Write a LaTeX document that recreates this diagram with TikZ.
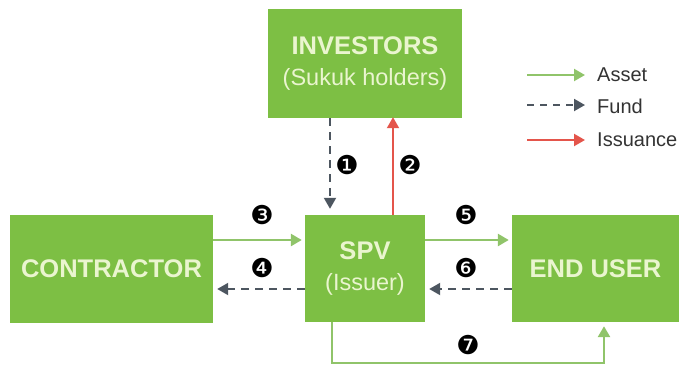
\documentclass[tikz,border=0pt]{standalone}
\usepackage{fontspec}
\setmainfont{Liberation Sans}
\newfontfamily\dingfont{DejaVu Sans}
\usetikzlibrary{arrows.meta}
\definecolor{boxgreen}{HTML}{7DBF44}
\definecolor{boxtext}{HTML}{EAF5CF}
\definecolor{assetgreen}{HTML}{90C46A}
\definecolor{fundgray}{HTML}{4D5660}
\definecolor{issuered}{HTML}{E4554B}
\begin{document}
\begin{tikzpicture}[x=1pt,y=-1pt,
  party/.style={fill=boxgreen,draw=none,text=boxtext,align=center,inner sep=0pt,
    font=\fontsize{25.5}{30}\selectfont},
  head/.style={-{Triangle[length=11pt,width=12pt]}},
  asset/.style={head,draw=assetgreen,line width=2.6pt},
  fund/.style={head,draw=fundgray,line width=2pt,dash pattern=on 8pt off 6pt},
  issue/.style={head,draw=issuered,line width=2pt},
  steplabel/.style={font=\dingfont\fontsize{26}{26}\selectfont,text=black,inner sep=0pt},
  key/.style={font=\fontsize{20}{20}\selectfont,text=black!80,anchor=west,inner sep=0pt}]
\useasboundingbox (0,0) rectangle (680,368);

% parties
\node[party,minimum width=194pt,minimum height=109pt] (inv) at (365,63.5)
  {\bfseries INVESTORS\\[1pt]\fontsize{23.5}{30}\selectfont (Sukuk holders)};
\node[party,minimum width=203pt,minimum height=108pt] (con) at (111.5,269)
  {\bfseries CONTRACTOR};
\node[party,minimum width=120pt,minimum height=107pt] (spv) at (365,268.5)
  {\bfseries SPV\\[1pt]\fontsize{23.5}{30}\selectfont (Issuer)};
\node[party,minimum width=167pt,minimum height=107pt] (end) at (595.5,268.5)
  {\bfseries END USER};

% flows between the parties (shifts are in page direction: + is up)
\draw[fund,shorten >=6pt] ([xshift=-35pt]inv.south) -- ([xshift=-35pt]spv.north);
\draw[issue,shorten >=-1pt] ([xshift=28pt]spv.north) -- ([xshift=28pt]inv.south);
\draw[asset,shorten >=3pt] ([yshift=28.5pt]spv.west -| con.east) -- ([yshift=28.5pt]spv.west);
\draw[fund,shorten >=4pt] ([yshift=-20.5pt]spv.west) -- ([yshift=-20.5pt]spv.west -| con.east);
\draw[asset,shorten >=3pt] ([yshift=28.5pt]spv.east) -- ([yshift=28.5pt]end.west);
\draw[fund,shorten >=4pt] ([yshift=-20.5pt]end.west) -- ([yshift=-20.5pt]spv.east);
\coordinate (turn) at (604,363);
\draw[asset,shorten >=4pt] ([xshift=-33pt]spv.south) |- (turn) -- (turn |- end.south);

% step numbers
\node[steplabel] (n1) at (347,165) {❶};
\node[steplabel] (n2) at (410,165) {❷};
\node[steplabel] (n3) at (262,215) {❸};
\node[steplabel] (n4) at (262,268) {❹};
\node[steplabel] (n5) at (466,215) {❺};
\node[steplabel] (n6) at (466,268) {❻};
\node[steplabel] (n7) at (468,345) {❼};

% legend
\coordinate (la1) at (527,75);  \coordinate (la2) at (585,75);
\coordinate (lf1) at (527,105); \coordinate (lf2) at (585,105);
\coordinate (li1) at (527,140); \coordinate (li2) at (585,140);
\draw[asset,line width=2.2pt] (la1) -- (la2);
\draw[fund,line width=2pt,dash pattern=on 7pt off 6pt] (lf1) -- (lf2);
\draw[issue,line width=2.2pt] (li1) -- (li2);
\node[key] (ka) at (597,75) {Asset};
\node[key] (kf) at (597,106) {Fund};
\node[key] (ki) at (597,140) {Issuance};
\end{tikzpicture}
\end{document}
